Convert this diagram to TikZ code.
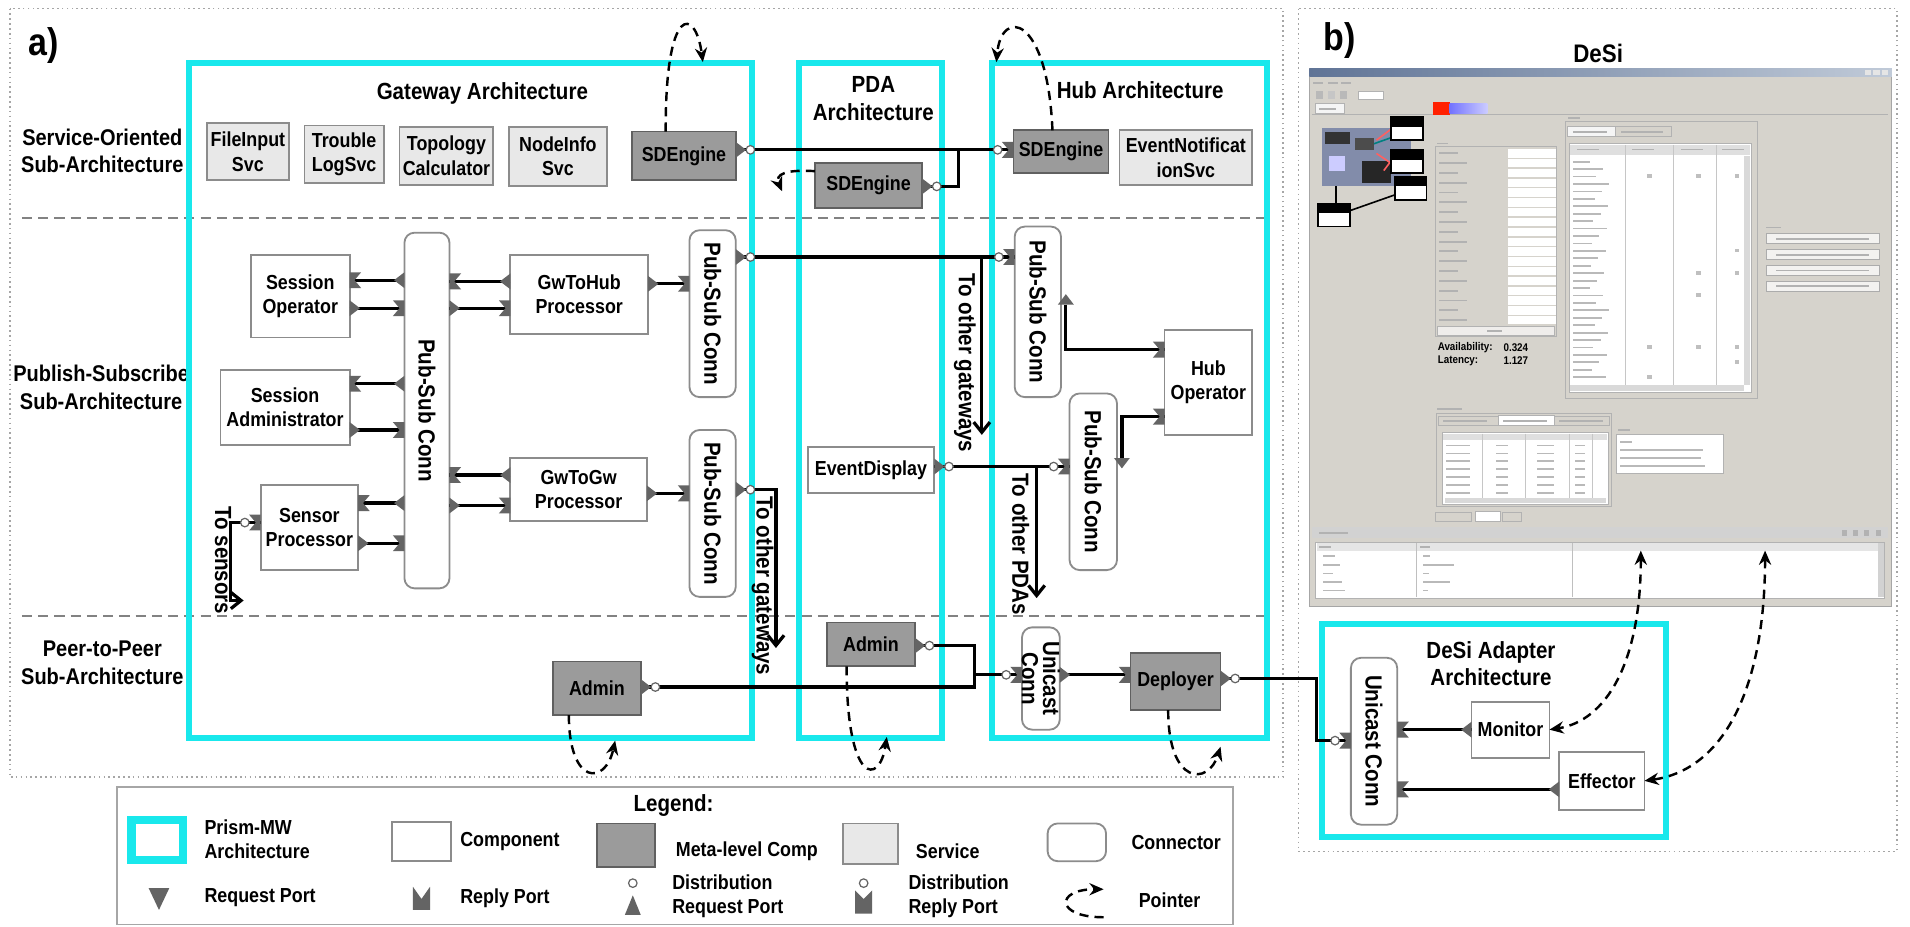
\documentclass[tikz,border=0pt]{standalone}
\usepackage{fontspec}
\setmainfont{Liberation Sans}[FakeStretch=0.88]
\usetikzlibrary{arrows.meta,calc}
\definecolor{archcyan}{RGB}{25,232,236}
\definecolor{portgray}{RGB}{100,100,100}
\definecolor{boxline}{RGB}{140,140,140}
\definecolor{metafill}{RGB}{155,155,155}
\definecolor{svcfill}{RGB}{232,232,232}
\definecolor{winbg}{RGB}{214,211,204}
\definecolor{sepgray}{RGB}{130,130,130}
\definecolor{tbdark}{RGB}{96,116,150}
\definecolor{tblight}{RGB}{192,202,216}
\definecolor{thumb}{RGB}{130,140,170}
\newcommand\ftx{\fontsize{10}{12}\selectfont\bfseries}
\newcommand\fti{\fontsize{11.5}{13.5}\selectfont\bfseries}
\newcommand\frow{\fontsize{11.2}{13.5}\selectfont\bfseries}
\newcommand\fvt{\fontsize{11.5}{10.5}\selectfont\bfseries}
\newcommand\fsml{\fontsize{5.5}{6}\selectfont\bfseries}
\newcommand\mkbox[7]{\node[#1, minimum width={(#5-#3)*0.6pt}, minimum height={(#6-#4)*0.6pt}] (#2) at ({(#3+#5)/2},{(#4+#6)/2}) {#7};}
\newcommand\hlink[5]{%
  \draw[wire] (#1|-0,#3) -- (#2|-0,#3);
  \pic[rotate=#4] at (#1|-0,#3) {req};
  \pic[rotate=#5] at (#2|-0,#3) {rep};}
\tikzset{
 comp/.style={draw=boxline, line width=0.9pt, fill=white, inner sep=0pt, outer sep=0pt, align=center, font=\ftx},
 meta/.style={comp, fill=metafill, draw=gray!75!black},
 svc/.style={comp, fill=svcfill},
 conn/.style={comp, rounded corners=5pt},
 arch/.style={draw=archcyan, line width=3pt},
 wire/.style={line width=1.6pt, black},
 sepline/.style={sepgray, line width=1.1pt, dash pattern=on 5pt off 3pt},
 outerbox/.style={gray!70, line width=0.9pt, dash pattern=on 0.8pt off 1.6pt},
 pointer/.style={line width=1.2pt, dash pattern=on 4.5pt off 3pt, -{Stealth[length=7pt,width=6pt]}},
 dpointer/.style={line width=1.2pt, dash pattern=on 4.5pt off 3pt, {Stealth[length=7pt,width=6pt]}-{Stealth[length=7pt,width=6pt]}},
 outarrow/.style={wire, -{Straight Barb[length=5pt,width=8pt]}},
 vtext/.style={rotate=-90, font=\fti, inner sep=0pt, align=center},
 req/.pic={\fill[portgray] (0,-6.5) -- (8.5,0) -- (0,6.5) -- cycle;},
 rep/.pic={\fill[portgray] (0,-6.5) -- (9.5,-6.5) -- (4,0) -- (9.5,6.5) -- (0,6.5) -- cycle;},
 dreq/.pic={\fill[portgray] (0,-6.5) -- (8.5,0) -- (0,6.5) -- cycle; \draw[portgray, fill=white, line width=0.6pt] (12,0) circle[radius=3.5];},
 drep/.pic={\fill[portgray] (0,-6.5) -- (9.5,-6.5) -- (4,0) -- (9.5,6.5) -- (0,6.5) -- cycle; \draw[portgray, fill=white, line width=0.6pt] (13,0) circle[radius=3.5];},
 bar/.style={fill=gray!60},
}
\begin{document}
\begin{tikzpicture}[x=0.6pt,y=-0.6pt]
\useasboundingbox (0,0) rectangle (1568,761);
\fill[white] (0,0) rectangle (1568,761);

% ---------- outer frames
\draw[outerbox] (8,7) rectangle (1053,638);
\draw[outerbox] (1066,7) rectangle (1557,699);
\node[font=\fontsize{19}{19}\selectfont\bfseries] (la) at (36,37) {a)};
\node[font=\fontsize{19}{19}\selectfont\bfseries] (lb) at (1100,33) {b)};
\node[font=\fontsize{12.5}{14}\selectfont\bfseries] (desit) at (1312,44) {DeSi};

% ---------- row labels and separators
\node[font=\frow, align=center] (rso) at (84,124) {Service-Oriented\\Sub-Architecture};
\node[font=\frow, align=center] (rps) at (83,318) {Publish-Subscribe\\Sub-Architecture};
\node[font=\frow, align=center] (rpp) at (84,544) {Peer-to-Peer\\Sub-Architecture};
\draw[sepline] (18,179) -- (1040,179);
\draw[sepline] (18,506) -- (1040,506);

% ---------- architecture frames
\draw[arch] (155,52) rectangle (617,606);
\draw[arch] (656,52) rectangle (773,606);
\draw[arch] (814,52) rectangle (1040,606);
\draw[arch] (1085,512) rectangle (1368,687);
\node[font=\fti] (gwt) at (396,77) {Gateway Architecture};
\node[font=\fti, align=center] (pdat) at (717,81) {PDA\\Architecture};
\node[font=\fti] (hubt) at (936,74) {Hub Architecture};
\node[font=\fti, align=center] (desiat) at (1224,545) {DeSi Adapter\\Architecture};

% ---------- service-oriented row
\mkbox{svc}{fis}{170}{101}{237}{148}{FileInput\\Svc}
\mkbox{svc}{tls}{250}{103}{315}{150}{Trouble\\LogSvc}
\mkbox{svc}{topo}{328}{104}{405}{152}{Topology\\Calculator}
\mkbox{svc}{nis}{418}{104}{498}{153}{NodeInfo\\Svc}
\mkbox{meta}{gwsde}{519}{108}{604}{148}{SDEngine}
\mkbox{meta}{pdasde}{669}{134}{757}{171}{SDEngine}
\mkbox{meta}{hubsde}{832}{107}{910}{142}{SDEngine}
\mkbox{svc}{ens}{919}{107}{1028}{152}{EventNotificat\\ionSvc}

% ---------- publish-subscribe row
\mkbox{comp}{sessop}{206}{209}{287}{277}{Session\\Operator}
\mkbox{comp}{sessadm}{181}{304}{287}{365}{Session\\Administrator}
\mkbox{comp}{sensor}{214}{398}{294}{468}{Sensor\\Processor}
\mkbox{conn}{psbig}{332}{191}{369}{483}{}
\node[vtext] (psbigt) at (psbig) {Pub-Sub Conn};
\mkbox{comp}{gwtohub}{419}{209}{532}{274}{GwToHub\\Processor}
\mkbox{comp}{gwtogw}{419}{376}{531}{428}{GwToGw\\Processor}
\mkbox{conn}{ps1}{566}{189}{604}{326}{}
\node[vtext] (ps1t) at (ps1) {Pub-Sub Conn};
\mkbox{conn}{ps2}{566}{353}{604}{490}{}
\node[vtext] (ps2t) at (ps2) {Pub-Sub Conn};
\mkbox{conn}{hubps1}{833}{186}{871}{326}{}
\node[vtext] (hubps1t) at (hubps1) {Pub-Sub Conn};
\mkbox{comp}{hubop}{956}{271}{1028}{357}{Hub\\Operator}
\mkbox{conn}{hubps2}{878}{323}{917}{468}{}
\node[vtext] (hubps2t) at (hubps2) {Pub-Sub Conn};
\mkbox{comp}{evd}{663}{367}{767}{405}{EventDisplay}

% ---------- peer-to-peer row
\mkbox{meta}{gwadmin}{454}{543}{526}{587}{Admin}
\mkbox{meta}{pdaadmin}{679}{511}{751}{547}{Admin}
\mkbox{conn}{uc}{839}{515}{870}{599}{}
\node[vtext, font=\fvt] (uct) at (uc) {Unicast\\Conn};
\mkbox{meta}{dep}{928}{536}{1002}{583}{Deployer}

% ---------- DeSi adapter
\mkbox{conn}{duc}{1109}{540}{1147}{677}{}
\node[vtext] (duct) at (duc) {Unicast Conn};
\mkbox{comp}{mon}{1208}{576}{1272}{622}{Monitor}
\mkbox{comp}{eff}{1280}{617}{1350}{665}{Effector}

% ---------- wires: service row
\draw[wire] (gwsde.east|-0,123) -- (hubsde.west|-0,123);
\coordinate (sdj) at (787,123);
\draw[wire] (pdasde.east|-0,153) -| (sdj);
\pic at (gwsde.east|-0,123) {dreq};
\pic at (pdasde.east|-0,153) {dreq};
\pic[rotate=180] at (hubsde.west|-0,123) {drep};

% ---------- wires: gateway pub-sub
\hlink{psbig.west}{sessop.east}{230}{180}{0}
\hlink{sessop.east}{psbig.west}{253}{0}{180}
\hlink{psbig.west}{sessadm.east}{315}{180}{0}
\hlink{sessadm.east}{psbig.west}{353}{0}{180}
\hlink{psbig.west}{sensor.east}{413}{180}{0}
\hlink{sensor.east}{psbig.west}{446}{0}{180}
\hlink{gwtohub.west}{psbig.east}{231}{180}{0}
\hlink{psbig.east}{gwtohub.west}{253}{0}{180}
\hlink{gwtogw.west}{psbig.east}{390}{180}{0}
\hlink{psbig.east}{gwtogw.west}{415}{0}{180}
\hlink{gwtohub.east}{ps1.west}{233}{0}{180}
\hlink{gwtogw.east}{ps2.west}{405}{0}{180}

% to hub
\draw[wire] (ps1.east|-0,211) -- (hubps1.west|-0,211);
\coordinate (gwj) at (806,211);
\coordinate (togw1) at (806,357);
\draw[outarrow] (gwj) -- (togw1);
\pic at (ps1.east|-0,211) {dreq};
\pic[rotate=180] at (hubps1.west|-0,211) {drep};

% to other gateways (lower)
\coordinate (togw2) at (637,532);
\draw[outarrow] (ps2.east|-0,402) -| (togw2);
\pic at (ps2.east|-0,402) {dreq};

% to sensors
\coordinate (tosens) at (200,493);
\draw[outarrow] (sensor.west|-0,429) -- (189,429) |- (tosens);
\pic[rotate=180] at (sensor.west|-0,429) {drep};

% hub internal
\coordinate (hp1port) at (875,250);
\draw[wire] (hp1port) |- (hubop.west|-0,287);
\pic[rotate=90] at (hp1port) {req};
\pic[rotate=180] at (hubop.west|-0,287) {rep};
\coordinate (hp2port) at (921,376);
\draw[wire] (hubop.west|-0,342) -| (hp2port);
\pic[rotate=180] at (hubop.west|-0,342) {rep};
\pic[rotate=-90] at (hp2port) {req};

% event display
\draw[wire] (evd.east|-0,383) -- (hubps2.west|-0,383);
\coordinate (edj) at (851,383);
\coordinate (topda) at (851,491);
\draw[outarrow] (edj) -- (topda);
\pic at (evd.east|-0,383) {dreq};
\pic[rotate=180] at (hubps2.west|-0,383) {drep};

% peer-to-peer
\draw[wire] (gwadmin.east|-0,564) -| (800,530) -- (pdaadmin.east|-0,530);
\coordinate (adj) at (800,554);
\draw[wire] (adj) -- (uc.west|-0,554);
\pic at (gwadmin.east|-0,564) {dreq};
\pic at (pdaadmin.east|-0,530) {dreq};
\pic[rotate=180] at (uc.west|-0,554) {drep};
\hlink{uc.east}{dep.west}{554}{0}{180}
\draw[wire] (dep.east|-0,557) -| (1081,608) -- (duc.west|-0,608);
\pic at (dep.east|-0,557) {dreq};
\pic[rotate=180] at (duc.west|-0,608) {drep};
\hlink{mon.west}{duc.east}{599}{180}{0}
\hlink{eff.west}{duc.east}{648}{180}{0}

% ---------- pointers
\coordinate (pgw) at (577,51);
\coordinate (phub) at (818,51);
\coordinate (ppda) at (642,157);
\coordinate (pgwa) at (505,608);
\coordinate (ppdaa) at (728,605);
\coordinate (pdep) at (1002,613);
\draw[pointer] ($(gwsde.north)+(-15,0)$) .. controls (546,2) and (571,6) .. (pgw);
\draw[pointer] ($(hubsde.north)+(-7,0)$) .. controls (860,12) and (822,6) .. (phub);
\draw[pointer] ($(pdasde.west)+(0,-12)$) .. controls (645,139) and (636,143) .. (ppda);
\draw[pointer] ($(gwadmin.south)+(-23,0)$) .. controls (467,645) and (497,645) .. (pgwa);
\draw[pointer] ($(pdaadmin.south)+(-20,0)$) .. controls (695,645) and (722,645) .. (ppdaa);
\draw[pointer] ($(dep.south)+(-6,0)$) .. controls (959,645) and (992,645) .. (pdep);

% ---------- rotated texts
\node[vtext] (tgw1) at (792,298) {To other gateways};
\node[vtext] (tgw2) at (626,481) {To other gateways};
\node[vtext] (tpda) at (838,447) {To other PDAs};
\node[vtext] (tsens) at (183,460) {To sensors};

% ---------- DeSi screenshot
\fill[winbg] (1075,56) rectangle (1553,498);
\draw[gray!70, line width=0.4pt] (1075,56) rectangle (1553,498);
\shade[left color=tbdark, right color=tblight] (1075,56) rectangle (1553,62.5);
\foreach \xx in {1531,1538,1545} \fill[white!80!gray] (\xx,57.3) rectangle ++(5,4);
\foreach \xx in {1078,1090,1101} \fill[bar] (\xx,67) rectangle ++(8,2);
\fill[gray!55] (1080,75) rectangle ++(6,6);
\fill[gray!45] (1090,75) rectangle ++(6,6);
\fill[gray!55] (1100,75) rectangle ++(6,6);
\draw[gray!60, fill=white] (1115,75) rectangle (1136,82);
\draw[gray!60] (1077,94) -- (1550,94);
\draw[gray!60, fill=white!92!gray] (1080,85) rectangle (1104,93);
\fill[bar] (1083,88.5) rectangle ++(14,1.5);
\fill[red!75!orange] (1176,84) rectangle (1190,94);
\shade[left color=blue!55, right color=blue!20] (1190,85) rectangle (1221,93);
% thumbnail
\fill[thumb] (1085,105) rectangle (1158,153);
\fill[black!80] (1088,108) rectangle (1108,118);
\fill[black!70] (1112,113) rectangle (1128,123);
\fill[white!80!blue] (1091,128) rectangle (1104,140);
\fill[black!85] (1118,132) rectangle (1142,150);
\draw[red!50!pink, line width=0.8pt] (1130,115) -- (1142,106) (1130,126) -- (1142,134) (1136,140) -- (1145,128);
\draw[teal, line width=0.8pt] (1128,118) -- (1142,113);
\foreach \a/\b in {1142/96,1142/123,1145/145,1082/167} {
  \draw[black, line width=0.8pt, fill=white] (\a,\b) rectangle ++(26,19);
  \fill[black] (\a,\b) rectangle ++(26,8);}
\draw[black, line width=0.8pt] (1097,153) -- (1097,167);
\draw[black, line width=0.8pt] (1108,173) -- (1145,160);
% parameters panel
\fill[bar] (1180,117) rectangle ++(9,1.5);
\draw[gray!60] (1178,120) rectangle (1278,276);
\foreach \k in {0,...,17} {
  \fill[bar] (1181,{125+\k*8.06}) rectangle ++({16+mod(\k*7,14)},1.6);
  \fill[white] (1238,{122.5+\k*8.06}) rectangle ++(39,6.8);}
\draw[gray!60, fill=white!60!winbg] (1180,268) rectangle (1276,275);
\fill[bar] (1221,271) rectangle ++(12,1.5);
\node[anchor=west, font=\fsml, inner sep=0pt] (avl) at (1180,285) {Availability:};
\node[anchor=west, font=\fsml, inner sep=0pt] (avv) at (1234,285) {0.324};
\node[anchor=west, font=\fsml, inner sep=0pt] (latl) at (1180,296) {Latency:};
\node[anchor=west, font=\fsml, inner sep=0pt] (latv) at (1234,296) {1.127};
% constraints table panel
\fill[bar] (1287,96) rectangle ++(10,1.5);
\draw[gray!60] (1285,100) rectangle (1443,327);
\draw[gray!60, fill=white!92!gray] (1287,104) rectangle (1326,112);
\draw[gray!60] (1326,104) rectangle (1372,112);
\fill[bar] (1291,107.5) rectangle ++(28,1.5);
\fill[bar] (1331,107.5) rectangle ++(34,1.5);
\draw[gray!60, fill=white] (1288,118) rectangle (1438,322);
\fill[gray!25] (1289,119) rectangle (1437,127);
\foreach \c in {1334,1374,1409} \draw[gray!45, line width=0.4pt] (\c,119) -- (\c,316);
\foreach \c in {1295,1340,1380,1414} \fill[bar] (\c,122) rectangle ++(18,1.5);
\foreach \k in {0,...,29} \fill[gray!55] (1291,{132+\k*6.1}) rectangle ++({14+mod(\k*11,17)},1.5);
\foreach \k/\c in {2/1352,2/1392,2/1424,12/1424,15/1392,15/1424,18/1392,25/1352,25/1392,25/1424,27/1424,29/1352}
  \fill[gray!50] (\c,{131+\k*6.1}) rectangle ++(4,3);
\fill[gray!30] (1432,128) rectangle (1437,316);
\fill[gray!30] (1289,316) rectangle (1432,321);
% algorithm buttons
\fill[bar] (1450,186) rectangle ++(12,1.5);
\foreach \yy in {192,205,218,231} {
  \draw[gray!65, fill=white!70!winbg] (1450,\yy) rectangle ++(93,8);
  \fill[bar] (1458,{\yy+3.3}) rectangle ++(76,1.5);}
% lower panel
\fill[bar] (1180,335) rectangle ++(20,1.5);
\draw[gray!60] (1179,339) rectangle (1323,416);
\draw[gray!60] (1181,342) rectangle (1230,349);
\draw[gray!60, fill=white] (1230,341) rectangle (1276,349);
\draw[gray!60] (1276,342) rectangle (1321,349);
\foreach \xx in {1185,1234,1280} \fill[bar] (\xx,345) rectangle ++(36,1.4);
\draw[gray!60, fill=white] (1184,355) rectangle (1320,414);
\fill[gray!25] (1185,356) rectangle (1319,361);
\foreach \c in {1217,1252,1288,1307} \draw[gray!45, line width=0.4pt] (\c,356) -- (\c,410);
\foreach \k in {0,...,6} {
  \fill[gray!55] (1187,{365+\k*6.5}) rectangle ++(20,1.5);
  \fill[gray!55] (1228,{365+\k*6.5}) rectangle ++(10,1.5);
  \fill[gray!55] (1262,{365+\k*6.5}) rectangle ++(14,1.5);
  \fill[gray!55] (1293,{365+\k*6.5}) rectangle ++(8,1.5);}
\fill[gray!30] (1186,409) rectangle (1318,413);
\fill[bar] (1328,352) rectangle ++(10,1.5);
\draw[gray!60, fill=white] (1327,357) rectangle (1415,389);
\foreach \k/\w in {0/10,1/68,2/66,3/70} \fill[gray!55] (1330,{362+\k*6.5}) rectangle ++(\w,1.5);
\draw[gray!60] (1178,421) rectangle (1208,428);
\draw[gray!60, fill=white] (1211,420) rectangle (1232,428);
\draw[gray!60] (1233,421) rectangle (1249,428);
% properties panel
\fill[gray!35] (1077,433) rectangle (1550,442);
\fill[bar] (1083,436.5) rectangle ++(24,1.8);
\foreach \xx in {1512,1521,1530,1540} \fill[gray!60] (\xx,435) rectangle ++(4,5);
\draw[gray!60, fill=white] (1080,445) rectangle (1547,491);
\fill[gray!20] (1081,446) rectangle (1546,452);
\draw[gray!50, line width=0.4pt] (1163,446) -- (1163,490);
\draw[gray!50, line width=0.4pt] (1291,446) -- (1291,490);
\fill[bar] (1083,448.5) rectangle ++(10,1.5);
\fill[bar] (1166,448.5) rectangle ++(8,1.5);
\foreach \k/\wa/\wb in {0/10/6,1/14/26,2/8/5,3/16/22,4/18/4} {
  \fill[gray!55] (1086,{456+\k*7}) rectangle ++(\wa,1.5);
  \fill[gray!55] (1168,{456+\k*7}) rectangle ++(\wb,1.5);}
\fill[gray!35] (1542,446) rectangle (1547,490);

% DeSi pointers
\coordinate (mtarget) at (1347,452);
\coordinate (etarget) at (1449,452);
\draw[dpointer] (mtarget) .. controls (1347,545) and (1318,592) .. (mon.east);
\draw[dpointer] (etarget) .. controls (1449,565) and (1415,632) .. (eff.east);

% ---------- legend
\draw[gray!70, line width=0.8pt] (96,646) rectangle (1012,759);
\node[font=\fti] (lgt) at (553,661) {Legend:};
\draw[archcyan, line width=4pt] (108,673) rectangle (150,706);
\node[font=\ftx, align=left, anchor=west] (lgat) at (162,689) {Prism-MW\\Architecture};
\mkbox{comp}{lgcomp}{322}{675}{370}{707}{}
\node[font=\ftx, anchor=west] (lgct) at (372,691) {Component};
\mkbox{meta}{lgmeta}{490}{676}{538}{712}{}
\node[font=\ftx, anchor=west] (lgmt) at (549,699) {Meta-level Comp};
\mkbox{svc}{lgsvc}{692}{676}{737}{709}{}
\node[font=\ftx, anchor=west] (lgst) at (746,699) {Service};
\mkbox{conn}{lgconn}{860}{676}{908}{707}{}
\node[font=\ftx, anchor=west] (lgnt) at (923,692) {Connector};
\fill[portgray] (122,729) -- (139,729) -- (130.5,747) -- cycle;
\node[font=\ftx, anchor=west] (lgrq) at (162,737) {Request Port};
\fill[portgray] (339,747) -- (339,728) -- (346,738) -- (353,728) -- (353,747) -- cycle;
\node[font=\ftx, anchor=west] (lgrp) at (372,737) {Reply Port};
\draw[portgray, fill=white, line width=0.6pt] (519.5,725) circle[radius=3.5];
\fill[portgray] (513,751) -- (519.5,735) -- (526,751) -- cycle;
\node[font=\ftx, anchor=west, align=left] (lgdq) at (546,736) {Distribution\\Request Port};
\draw[portgray, fill=white, line width=0.6pt] (709,725) circle[radius=3.5];
\fill[portgray] (702,750) -- (702,731) -- (709,738) -- (716,731) -- (716,750) -- cycle;
\node[font=\ftx, anchor=west, align=left] (lgdp) at (740,736) {Distribution\\Reply Port};
\coordinate (lgp1) at (906,753);
\coordinate (lgp2) at (906,730);
\draw[pointer] (lgp1) .. controls (866,753) and (866,730) .. (lgp2);
\node[font=\ftx, anchor=west] (lgpt) at (929,739) {Pointer};
\end{tikzpicture}
\end{document}
